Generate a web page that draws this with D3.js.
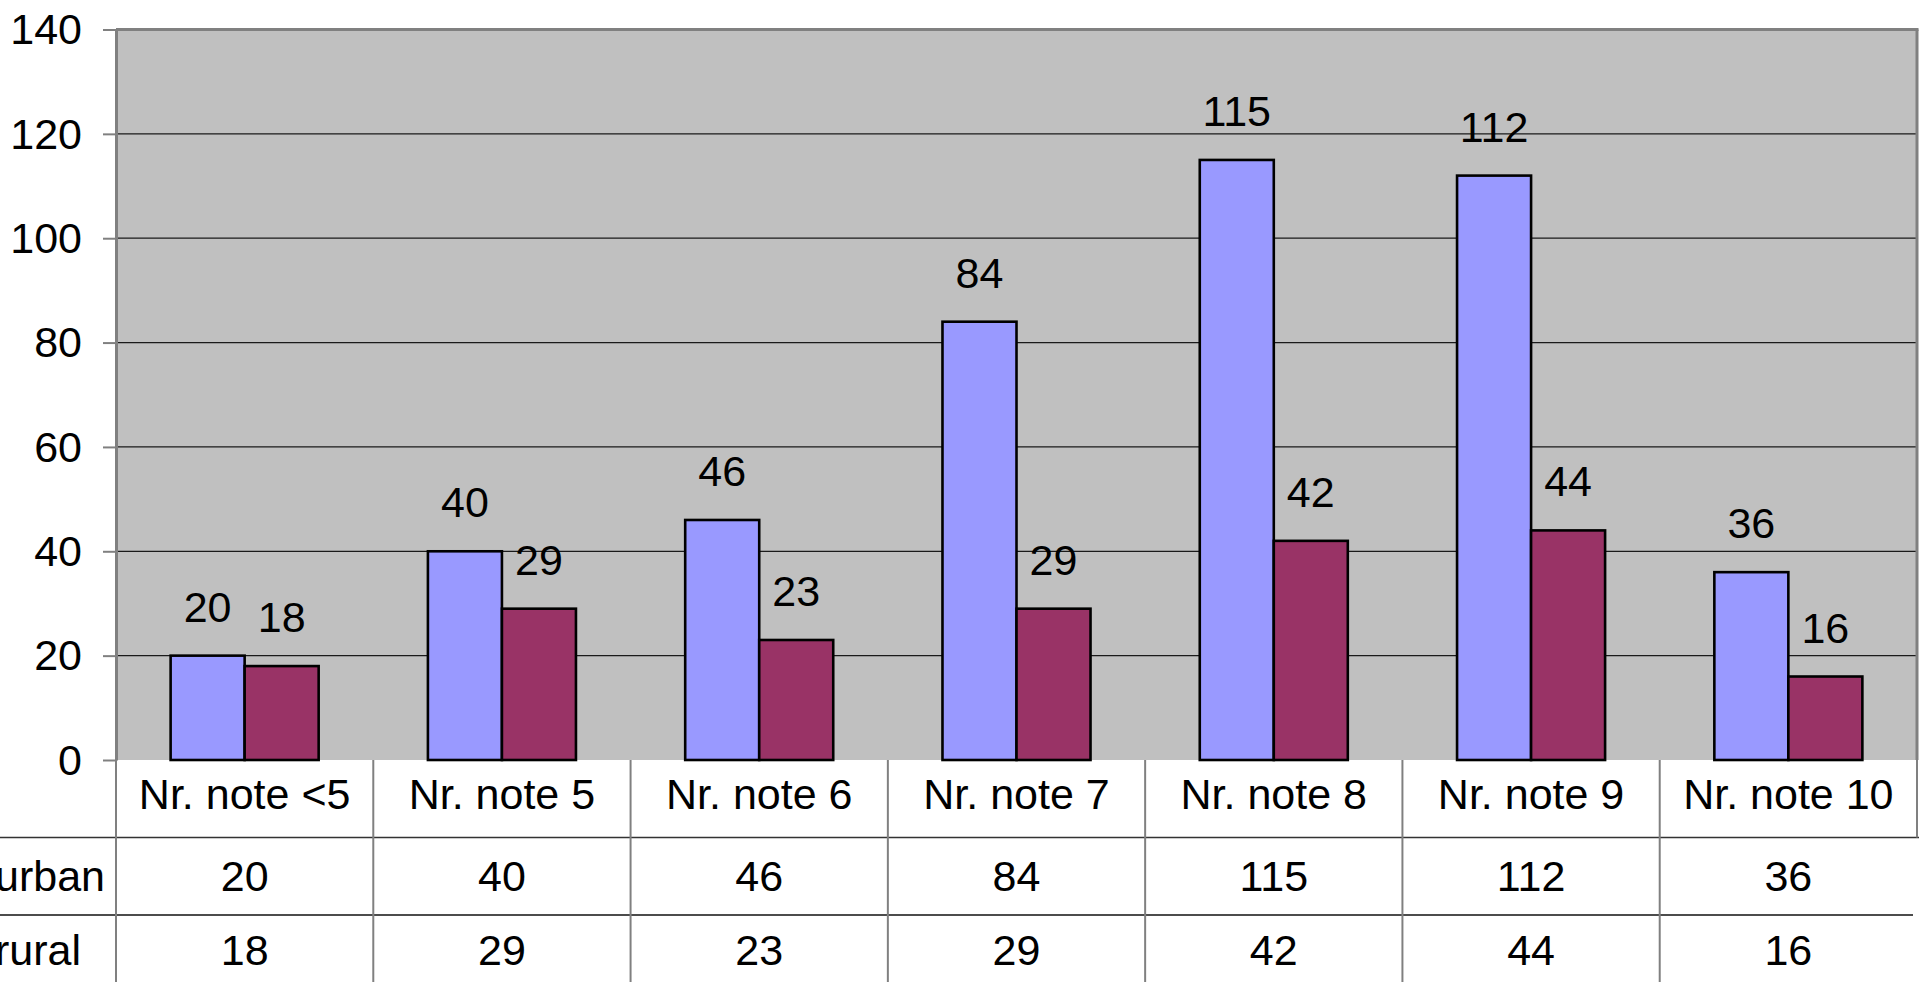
<!DOCTYPE html>
<html><head><meta charset="utf-8">
<script src="https://cdn.jsdelivr.net/npm/d3@7"></script>
<style>html,body{margin:0;padding:0;background:#fff;overflow:hidden}
text{font-family:"Liberation Sans",Arial,sans-serif;fill:#000}</style>
</head><body>
<svg id="c" width="1921" height="982"></svg>
<script>
const categories = ["Nr. note <5","Nr. note 5","Nr. note 6","Nr. note 7","Nr. note 8","Nr. note 9","Nr. note 10"];
const seriesNames = ["urban","rural"];
const urban = [20,40,46,84,115,112,36];
const rural = [18,29,23,29,42,44,16];
const yTicks = [0,20,40,60,80,100,120,140];
const colors = ["#9999FF","#993366"];

const L = 116, R = 1917, T = 29.5, B = 760;
const FS = 43;
const svg = d3.select("#c");

const x = d3.scaleBand().domain(categories).range([L, R]);
const xs = d3.scaleBand().domain(seriesNames).range([0, x.bandwidth()]).paddingOuter(0.738);
const y = d3.scaleLinear().domain([0, 140]).range([B, T]);
const color = d3.scaleOrdinal().domain(seriesNames).range(colors);

const data = categories.map((c, i) => ({cat: c, values: [
  {s: "urban", v: urban[i]}, {s: "rural", v: rural[i]}]}));

// plot background
svg.append("rect").attr("x", L).attr("y", T).attr("width", R - L).attr("height", B - T).attr("fill", "#C0C0C0");

// gridlines
svg.append("g").selectAll("line").data(yTicks.filter(t => t > 0 && t < 140)).join("line")
  .attr("x1", L).attr("x2", R).attr("y1", d => y(d)).attr("y2", d => y(d))
  .attr("stroke", "#1a1a1a").attr("stroke-width", 1.3);

// bars
const groups = svg.append("g").selectAll("g").data(data).join("g")
  .attr("transform", d => `translate(${x(d.cat)},0)`);
groups.selectAll("rect").data(d => d.values).join("rect")
  .attr("x", d => xs(d.s)).attr("width", xs.bandwidth())
  .attr("y", d => y(d.v)).attr("height", d => y(0) - y(d.v))
  .attr("fill", d => color(d.s)).attr("stroke", "#000").attr("stroke-width", 2.6);
groups.selectAll("text").data(d => d.values).join("text")
  .attr("x", d => xs(d.s) + xs.bandwidth() / 2).attr("y", d => y(d.v) - 34)
  .attr("text-anchor", "middle").attr("font-size", FS).text(d => d.v);

// plot border (top & right)
svg.append("line").attr("x1", L).attr("x2", R + 1.5).attr("y1", T).attr("y2", T)
  .attr("stroke", "#808080").attr("stroke-width", 3);
svg.append("line").attr("x1", R).attr("x2", R).attr("y1", T).attr("y2", B)
  .attr("stroke", "#808080").attr("stroke-width", 3);

// y axis
const yAxis = svg.append("g").attr("transform", `translate(${L},0)`)
  .call(d3.axisLeft(y).tickValues(yTicks).tickSize(13).tickSizeOuter(0).tickPadding(21));
yAxis.select(".domain").attr("stroke", "#808080").attr("stroke-width", 3);
yAxis.selectAll(".tick line").attr("stroke", "#808080").attr("stroke-width", 2);
yAxis.selectAll(".tick text").attr("font-size", FS).attr("font-family", "Liberation Sans, Arial, sans-serif")
  .attr("fill", "#000").attr("dy", "0.33em");

// data table
const rowLines = [837.5, 915];
svg.append("line").attr("x1", 0).attr("x2", 1919).attr("y1", rowLines[0]).attr("y2", rowLines[0])
  .attr("stroke", "#333").attr("stroke-width", 1.6);
svg.append("line").attr("x1", 0).attr("x2", 1913).attr("y1", rowLines[1]).attr("y2", rowLines[1])
  .attr("stroke", "#111").attr("stroke-width", 1.6);
const colEdges = categories.map(c => x(c));
svg.append("g").selectAll("line").data(colEdges).join("line")
  .attr("x1", d => d).attr("x2", d => d).attr("y1", B).attr("y2", 982)
  .attr("stroke", "#808080").attr("stroke-width", 2);
svg.append("line").attr("x1", R).attr("x2", R).attr("y1", B).attr("y2", rowLines[0])
  .attr("stroke", "#808080").attr("stroke-width", 2);

svg.append("g").selectAll("text").data(categories).join("text")
  .attr("x", d => x(d) + x.bandwidth() / 2).attr("y", 809)
  .attr("text-anchor", "middle").attr("font-size", FS).text(d => d);

const rows = [{name: "urban", vals: urban, base: 891}, {name: "rural", vals: rural, base: 965}];
rows.forEach(r => {
  svg.append("text").attr("x", -5).attr("y", r.base).attr("font-size", FS).text(r.name);
  svg.append("g").selectAll("text").data(categories).join("text")
    .attr("x", (d) => x(d) + x.bandwidth() / 2).attr("y", r.base)
    .attr("text-anchor", "middle").attr("font-size", FS)
    .text((d, i) => r.vals[i]);
});
</script>
</body></html>
